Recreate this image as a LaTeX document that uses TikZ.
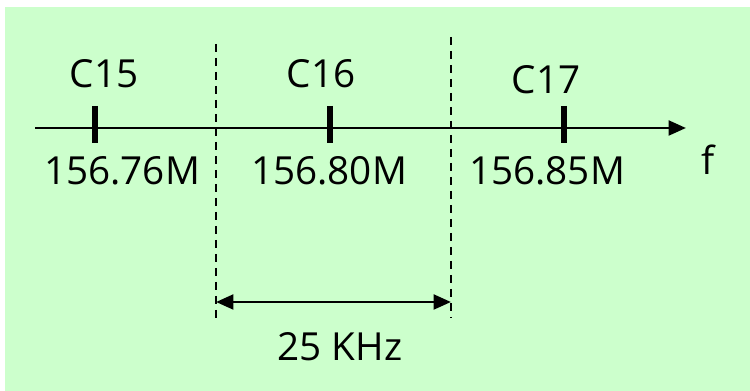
\documentclass[tikz,border=0pt]{standalone}
\usepackage{fontspec}
\setmainfont{Open Sans}
\usetikzlibrary{arrows.meta}
\definecolor{panel}{HTML}{CCFFCC}
\begin{document}
\begin{tikzpicture}[x=0.75pt,y=-0.75pt,
  lbl/.style={font=\fontsize{29}{32}\selectfont, inner sep=0pt, anchor=center},
  axis/.style={line width=2.2pt, -{Triangle[length=13pt,width=11pt]}},
  tick/.style={line width=4.5pt},
  guide/.style={line width=1.3pt, dash pattern=on 6pt off 4.5pt},
  span/.style={line width=2.2pt, {Triangle[length=13pt,width=11pt]}-{Triangle[length=13pt,width=11pt]}}]
  \useasboundingbox (0,0) rectangle (750,391);
  \fill[panel] (5,7) rectangle (750,391);

  % frequency axis
  \coordinate (a0) at (35,128);
  \coordinate (a1) at (686,128);
  \draw[axis] (a0) -- (a1);
  \node[lbl] (f) at (708,160) {f};

  % channel ticks
  \coordinate (t15a) at (95,106); \coordinate (t15b) at (95,143);
  \coordinate (t16a) at (330,106); \coordinate (t16b) at (330,143);
  \coordinate (t17a) at (564,106); \coordinate (t17b) at (564,143);
  \draw[tick] (t15a) -- (t15b);
  \draw[tick] (t16a) -- (t16b);
  \draw[tick] (t17a) -- (t17b);

  % channel names
  \node[lbl] (c15) at (104,74) {C15};
  \node[lbl] (c16) at (321,74) {C16};
  \node[lbl] (c17) at (546,80) {C17};

  % centre frequencies
  \node[lbl] (f15) at (122,171) {156.76M};
  \node[lbl] (f16) at (329,171) {156.80M};
  \node[lbl] (f17) at (547,171) {156.85M};

  % channel boundaries
  \coordinate (b1a) at (216,44); \coordinate (b1b) at (216,318);
  \coordinate (b2a) at (451,37); \coordinate (b2b) at (451,318);
  \draw[guide] (b1a) -- (b1b);
  \draw[guide] (b2a) -- (b2b);

  % channel spacing
  \coordinate (s1) at (216,302);
  \coordinate (s2) at (451,302);
  \draw[span] (s1) -- (s2);
  \node[lbl] (bw) at (340,347) {25 KHz};
\end{tikzpicture}
\end{document}
